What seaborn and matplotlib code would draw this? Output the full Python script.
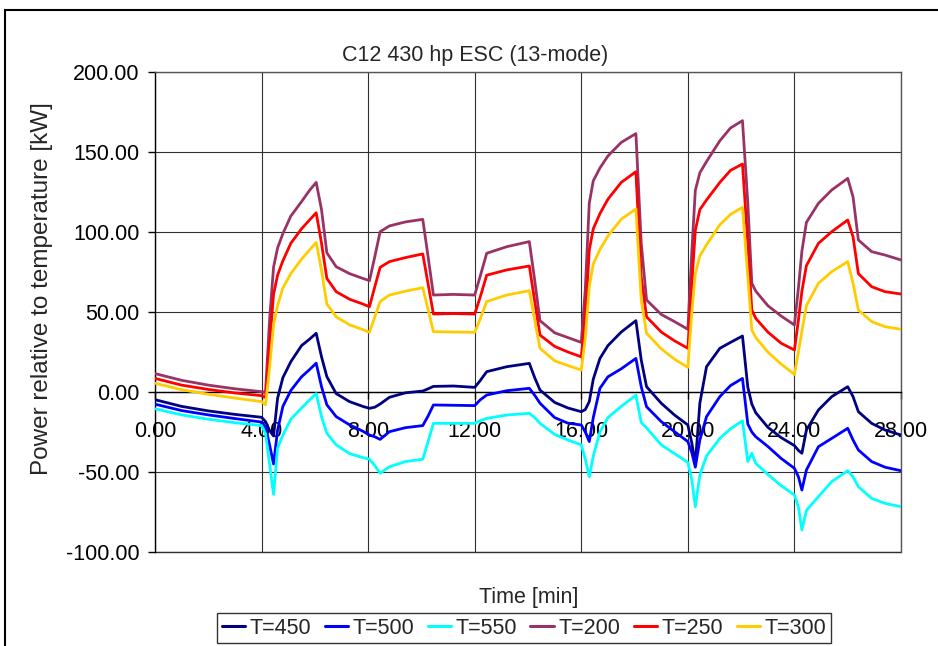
import numpy as np
import pandas as pd
import matplotlib
matplotlib.use("Agg")
import matplotlib.pyplot as plt
import seaborn as sns
from matplotlib.patches import Rectangle
from matplotlib.ticker import FormatStrFormatter

# ---------------- data ----------------
time_min = [0, 1, 2, 3, 4.0, 4.15, 4.3, 4.45, 4.6, 4.8,
            5.1, 5.5, 5.8, 6.05, 6.25, 6.45, 6.8, 7.3, 7.8, 8.05,
            8.25, 8.45, 8.8, 9.4, 10.05, 10.25, 10.45, 11.2, 12.0, 12.2,
            12.45, 13.2, 14.05, 14.25, 14.45, 15.0, 15.5, 16.0, 16.15, 16.3,
            16.45, 16.7, 17.0, 17.5, 18.05, 18.25, 18.45, 19.0, 19.5, 20.0,
            20.15, 20.28, 20.45, 20.7, 21.2, 21.6, 22.05, 22.25, 22.4, 22.55,
            23.0, 23.5, 24.0, 24.15, 24.28, 24.45, 24.9, 25.4, 26.0, 26.2,
            26.4, 26.9, 27.4, 28.0]

t200 = [11.5, 7.3, 4.3, 2.0, 0.2, 0.0, 45, 78, 90, 99,
        110, 119, 126, 131, 114, 87, 78.3, 74, 71, 69.6,
        84.6, 100.2, 103.8, 106.3, 107.9, 84.6, 60.6, 61, 60.6, 72,
        86.7, 90.8, 94, 70, 44.6, 37, 34, 31, 64, 118,
        132, 140, 147.5, 156, 161.5, 92.9, 57.5, 48.5, 44, 39.2,
        88, 126, 137, 144, 157, 165, 169.6, 118, 68, 63,
        54, 47.5, 41.9, 65, 88, 106, 117.9, 126.25, 133.5, 122,
        95, 87.7, 85.6, 82.5]

t250 = [8.5, 4.3, 1.6, -0.6, -2.3, -3.5, 30, 61, 73, 82,
        93, 102, 107.5, 112, 93, 71, 62.7, 58, 55, 53.3,
        65.8, 77.9, 81.5, 84, 86.3, 67.5, 48.75, 49, 48.75, 59,
        73, 76.3, 78.75, 57, 35.6, 28.5, 25, 22, 47, 88.75,
        102, 111.5, 120.5, 131, 137.7, 72, 47, 37.5, 32, 27.3,
        68, 101, 114, 120, 131, 138.5, 142.5, 93, 51.25, 46,
        37.5, 30.5, 26.25, 45, 63, 79, 92.9, 100.2, 107.5, 97,
        74, 65.8, 62.7, 61.25]

t300 = [5.5, 1.4, -1.4, -3.8, -6.0, -8.0, 15, 42, 54, 65,
        74, 83, 88.8, 93.5, 76, 55, 47, 42, 39, 37.3,
        47, 56.5, 60.6, 63, 65.2, 51.5, 37.7, 37.5, 37.3, 45.4,
        56.5, 60.6, 63.3, 45, 27.3, 19.5, 16.5, 13.75, 33.5, 65.8,
        80, 89, 97.5, 108, 114.4, 57.5, 36.7, 27, 20.5, 15.4,
        50, 74, 85, 92, 104.5, 111, 115.4, 72, 38.75, 34,
        25, 17.5, 11, 25, 38, 54, 67.9, 75.2, 81.5, 67.9,
        51.25, 44, 40.8, 39.2]

t450 = [-4.8, -9.0, -11.8, -14.0, -15.8, -18.5, -24, -27.5, -4, 9,
        19, 29, 33, 36.7, 22, 9.6, -1, -6, -9, -10.2,
        -9.5, -7.5, -3.3, -0.5, 0.6, 2, 3.5, 3.75, 2.9, 7,
        12.7, 15.8, 17.9, 9, 1.25, -6.5, -10, -12.3, -11, -6,
        8, 21, 29, 37.5, 44.6, 20, 3.3, -7, -14.4, -20.6,
        -32, -45, -7, 15.8, 27.3, 31, 35, 3, -7.5, -13,
        -22, -28.5, -33.5, -36.5, -38.3, -23.75, -11.25, -2.9, 3.3, -2.9,
        -12.3, -19.6, -23.75, -26.9]

t500 = [-7.6, -11.6, -14.3, -16.6, -18.8, -22, -33, -45, -24, -9,
        1, 9.5, 14, 18, 3.3, -8, -15.4, -20.5, -24.5, -26.9,
        -28, -29.6, -24.8, -22.3, -21, -15, -8.1, -8.3, -8.5, -5,
        -1.9, 0.8, 2.3, -2, -7, -16, -19.5, -20.6, -25, -31,
        -16, 2.3, 9.5, 14.5, 21, 3.3, -9.2, -18.5, -24.8, -31,
        -38, -47, -30, -15.4, -2.9, 4, 8.5, -20, -25, -28,
        -34, -41.5, -47.7, -53, -61.25, -48.75, -34.2, -29, -22.7, -30,
        -36.25, -43.5, -47, -49.2]

t550 = [-10.5, -14.3, -17.0, -19.2, -21.0, -26, -45, -64, -35, -27,
        -17, -10, -5, -1, -15.4, -25.8, -33, -38.5, -41, -42,
        -46, -50.8, -46.7, -43.5, -42, -31, -19.6, -19.6, -19.6, -18,
        -16.5, -14.4, -13.3, -16, -19.6, -26.5, -30, -33, -42, -53,
        -40, -25, -16, -9, -2, -19, -22.5, -33, -38.5, -44,
        -55, -71.7, -52, -40, -29, -23, -18, -43.5, -38.3, -44.6,
        -51.5, -58.5, -64.4, -72, -86.25, -74, -65.4, -56, -49.2, -53,
        -59.2, -66.5, -69.6, -71.7]

series_labels = ["T=450", "T=500", "T=550", "T=200", "T=250", "T=300"]
series_colors = ["#000080", "#0000FF", "#00FFFF", "#993366", "#FF0000", "#FFCC00"]
x_ticks = [0, 4, 8, 12, 16, 20, 24, 28]
y_ticks = [-100, -50, 0, 50, 100, 150, 200]

title_text = "C12 430 hp ESC (13-mode)"
x_label = "Time [min]"
y_label = "Power relative to temperature [kW]"

# ---------------- styling ----------------
sns.set_style("white")
plt.rcParams["font.family"] = ["Liberation Sans", "DejaVu Sans"]
FS = 15.5

frames = []
for lab, vals in zip(series_labels, [t450, t500, t550, t200, t250, t300]):
    frames.append(pd.DataFrame({"time": time_min, "power": vals, "series": lab}))
df = pd.concat(frames, ignore_index=True)

W, H = 938, 646
fig = plt.figure(figsize=(W / 100, H / 100), dpi=100)
ax = fig.add_axes([155 / W, 94 / H, 746 / W, 480 / H])

sns.lineplot(data=df, x="time", y="power", hue="series", hue_order=series_labels,
             palette=dict(zip(series_labels, series_colors)), estimator=None,
             sort=False, linewidth=2.0, ax=ax, legend=True, zorder=3)

ax.set_xlim(0, 28)
ax.set_ylim(-100, 200)
ax.set_xticks(x_ticks)
ax.set_yticks(y_ticks)
ax.xaxis.set_major_formatter(FormatStrFormatter("%.2f"))
ax.yaxis.set_major_formatter(FormatStrFormatter("%.2f"))
ax.set_xlabel("")
ax.set_ylabel("")

ax.grid(True, color="#303030", linewidth=0.8)
ax.axhline(y_ticks[0], color="#303030", linewidth=1.0, clip_on=False, zorder=1)
ax.spines["bottom"].set_position(("data", 0))
for s in ["top", "right"]:
    ax.spines[s].set_color("#555555")
    ax.spines[s].set_linewidth(1.0)
ax.spines["left"].set_color("black")
ax.spines["left"].set_linewidth(1.0)
ax.spines["bottom"].set_color("black")
ax.spines["bottom"].set_linewidth(1.0)

ax.tick_params(axis="y", direction="out", length=5, width=1, pad=6,
               labelsize=FS, left=True, colors="black")
ax.tick_params(axis="x", direction="out", length=5, width=1, pad=16,
               labelsize=FS, bottom=True, colors="black")

handles, labels = ax.get_legend_handles_labels()
ax.get_legend().remove()
leg = fig.legend(handles, labels, ncol=6, loc="center",
                 bbox_to_anchor=(524 / W, 1 - 628 / H), frameon=True,
                 fancybox=False, fontsize=FS, handlelength=1.1,
                 handletextpad=0.2, columnspacing=0.62, borderpad=0.2,
                 borderaxespad=0)
leg.get_frame().set_edgecolor("black")
leg.get_frame().set_linewidth(1.0)
for lh in leg.get_lines():
    lh.set_linewidth(2.2)

fig.text(475 / W, 1 - 55 / H, title_text, ha="center", va="center", fontsize=FS)
fig.text(529 / W, 1 - 598 / H, x_label, ha="center", va="center", fontsize=FS)
fig.text(42 / W, 1 - 289 / H, y_label, ha="center", va="center",
         rotation=90, fontsize=17.5)

fig.patches.append(Rectangle((5 / W, -0.05), 1.2, 1.05 - 10 / H,
                             transform=fig.transFigure, fill=False,
                             edgecolor="black", linewidth=1.5))

fig.savefig("out.png", dpi=100)
